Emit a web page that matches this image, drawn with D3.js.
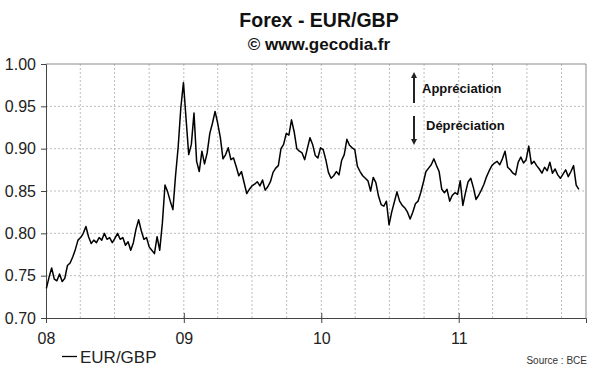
<!DOCTYPE html>
<html>
<head>
<meta charset="utf-8">
<script src="https://cdn.jsdelivr.net/npm/d3@7"></script>
<style>
body { margin: 0; background: #fff; }
svg { display: block; font-family: "Liberation Sans", Arial, sans-serif; }
</style>
</head>
<body>
<div id="chart"></div>
<script>
// weekly fixings, one value per week starting on firstWeek
var firstWeek = '2008-01-02';

var eurgbp2008 = [0.735, 0.748, 0.759, 0.746, 0.744, 0.752, 0.743, 0.747, 0.762, 0.765,
    0.772, 0.781, 0.792, 0.795, 0.800, 0.808, 0.796, 0.788, 0.792, 0.789,
    0.795, 0.792, 0.800, 0.793, 0.795, 0.789, 0.794, 0.800, 0.793, 0.795,
    0.786, 0.790, 0.780, 0.789, 0.805, 0.816, 0.803, 0.793, 0.795, 0.784,
    0.780, 0.776, 0.796, 0.780, 0.812, 0.857, 0.849, 0.838, 0.828, 0.868,
    0.902, 0.948, 0.978];

var eurgbp2009 = [0.935, 0.893, 0.905, 0.942, 0.885, 0.873, 0.897, 0.882, 0.895, 0.918,
    0.930, 0.944, 0.930, 0.913, 0.888, 0.893, 0.901, 0.887, 0.889, 0.879,
    0.868, 0.873, 0.860, 0.847, 0.852, 0.856, 0.858, 0.861, 0.856, 0.863,
    0.851, 0.855, 0.861, 0.872, 0.877, 0.880, 0.900, 0.905, 0.918, 0.916,
    0.934, 0.920, 0.900, 0.897, 0.895, 0.887, 0.900, 0.913, 0.905, 0.892,
    0.889, 0.901];

var eurgbp2010 = [0.899, 0.887, 0.872, 0.865, 0.868, 0.873, 0.869, 0.886, 0.893, 0.911,
    0.904, 0.901, 0.899, 0.879, 0.873, 0.868, 0.865, 0.862, 0.850, 0.866,
    0.860, 0.844, 0.834, 0.832, 0.838, 0.810, 0.825, 0.837, 0.849, 0.838,
    0.833, 0.830, 0.825, 0.817, 0.825, 0.835, 0.838, 0.848, 0.860, 0.873,
    0.877, 0.881, 0.888, 0.880, 0.873, 0.852, 0.848, 0.852, 0.838, 0.845,
    0.848, 0.846];

var eurgbp2011 = [0.862, 0.833, 0.848, 0.861, 0.865, 0.854, 0.840, 0.845, 0.851, 0.858,
    0.867, 0.874, 0.880, 0.883, 0.885, 0.881, 0.888, 0.897, 0.878, 0.875,
    0.871, 0.869, 0.884, 0.890, 0.883, 0.887, 0.903, 0.882, 0.885, 0.880,
    0.876, 0.871, 0.878, 0.874, 0.884, 0.871, 0.876, 0.869, 0.865, 0.870,
    0.875, 0.867, 0.873, 0.880, 0.857, 0.852];

var yTicks = [0.70, 0.75, 0.80, 0.85, 0.90, 0.95, 1.00];
var seriesName = 'EUR/GBP';

var margin = { top: 64, right: 14, bottom: 54, left: 46 };
var fullWidth = 600;
var fullHeight = 372;
var width = fullWidth - margin.left - margin.right;
var height = fullHeight - margin.top - margin.bottom;

var start = d3.timeParse('%Y-%m-%d')(firstWeek);
var values = [].concat(eurgbp2008, eurgbp2009, eurgbp2010, eurgbp2011);
var data = values.map(function (v, i) {
    return { date: d3.timeDay.offset(start, 7 * i), value: v };
});

var svg = d3.select('#chart')
    .append('svg')
    .attr('width', fullWidth)
    .attr('height', fullHeight);

// titles, centred over the plot area
var cx = margin.left + width / 2 + 3;
svg.append('text')
    .attr('x', cx).attr('y', 27)
    .attr('text-anchor', 'middle')
    .style('font-size', '19.5px').style('font-weight', 'bold').style('fill', '#111')
    .text('Forex - EUR/GBP');
svg.append('text')
    .attr('x', cx).attr('y', 50)
    .attr('text-anchor', 'middle')
    .style('font-size', '17px').style('font-weight', 'bold').style('fill', '#111')
    .text('\u00a9 www.gecodia.fr');

var g = svg.append('g')
    .attr('transform', 'translate(' + margin.left + ',' + margin.top + ')');

var x = d3.scaleTime()
    .domain([new Date(2008, 0, 1), new Date(2011, 11, 5)])
    .range([0, width]);

var y = d3.scaleLinear()
    .domain([0.70, 1.00])
    .range([height, 0]);

// dotted grid
g.append('g')
    .selectAll('line')
    .data(yTicks.slice(1, -1))
    .enter().append('line')
    .attr('x1', 0).attr('x2', width)
    .attr('y1', function (d) { return y(d); })
    .attr('y2', function (d) { return y(d); })
    .attr('stroke', '#bdbdbd')
    .attr('stroke-dasharray', '2,2');

g.append('g')
    .selectAll('line')
    .data(x.ticks(d3.timeMonth.every(3)).slice(1))
    .enter().append('line')
    .attr('x1', function (d) { return x(d); })
    .attr('x2', function (d) { return x(d); })
    .attr('y1', 0).attr('y2', height)
    .attr('stroke', '#bdbdbd')
    .attr('stroke-dasharray', '2,2');

// frame top / right
g.append('path')
    .attr('d', 'M0,0H' + width + 'V' + height)
    .attr('fill', 'none')
    .attr('stroke', '#8a8a8a');

// axes
var yAxis = d3.axisLeft(y)
    .tickValues(yTicks)
    .tickFormat(d3.format('.2f'))
    .tickSize(5)
    .tickPadding(5);

var yg = g.append('g').call(yAxis);
yg.select('.domain').attr('stroke', '#444');
yg.selectAll('.tick line').attr('stroke', '#444');
yg.selectAll('text')
    .style('font-size', '16px')
    .style('fill', '#222')
    .style('font-family', '"Liberation Sans", Arial, sans-serif');

var xAxis = d3.axisBottom(x)
    .ticks(d3.timeYear.every(1))
    .tickFormat(d3.timeFormat('%y'))
    .tickSize(5)
    .tickPadding(10);

var xg = g.append('g')
    .attr('transform', 'translate(0,' + height + ')')
    .call(xAxis);
xg.select('.domain').attr('stroke', '#444');
xg.selectAll('.tick line').attr('stroke', '#444').attr('y1', -5);
xg.selectAll('text')
    .style('font-size', '16px')
    .style('fill', '#222')
    .style('font-family', '"Liberation Sans", Arial, sans-serif');

// series
var line = d3.line()
    .x(function (d) { return x(d.date); })
    .y(function (d) { return y(d.value); });

g.append('path')
    .datum(data)
    .attr('fill', 'none')
    .attr('stroke', '#000')
    .attr('stroke-width', 1.5)
    .attr('stroke-linejoin', 'round')
    .attr('d', line);

// appreciation / depreciation arrows
var defs = svg.append('defs');
defs.append('marker')
    .attr('id', 'head')
    .attr('viewBox', '0 0 10 10')
    .attr('refX', 5).attr('refY', 5)
    .attr('markerWidth', 3).attr('markerHeight', 3)
    .attr('orient', 'auto')
    .append('path')
    .attr('d', 'M0,0L10,5L0,10Z')
    .attr('fill', '#222');

svg.append('line')
    .attr('x1', 414).attr('x2', 414).attr('y1', 103).attr('y2', 75)
    .attr('stroke', '#222').attr('stroke-width', 2)
    .attr('marker-end', 'url(#head)');
svg.append('line')
    .attr('x1', 414).attr('x2', 414).attr('y1', 116).attr('y2', 142)
    .attr('stroke', '#222').attr('stroke-width', 2)
    .attr('marker-end', 'url(#head)');

svg.append('text')
    .attr('x', 422).attr('y', 93)
    .style('font-size', '13px').style('font-weight', 'bold').style('fill', '#111')
    .text('Appr\u00e9ciation');
svg.append('text')
    .attr('x', 426).attr('y', 130)
    .style('font-size', '13px').style('font-weight', 'bold').style('fill', '#111')
    .text('D\u00e9pr\u00e9ciation');

// legend
svg.append('line')
    .attr('x1', 62).attr('x2', 77).attr('y1', 356.5).attr('y2', 356.5)
    .attr('stroke', '#000').attr('stroke-width', 1.3);
svg.append('text')
    .attr('x', 80).attr('y', 363)
    .style('font-size', '17px').style('fill', '#222')
    .text(seriesName);

svg.append('text')
    .attr('x', 587).attr('y', 364)
    .attr('text-anchor', 'end')
    .style('font-size', '10px').style('fill', '#333')
    .text('Source : BCE');
</script>
</body>
</html>
